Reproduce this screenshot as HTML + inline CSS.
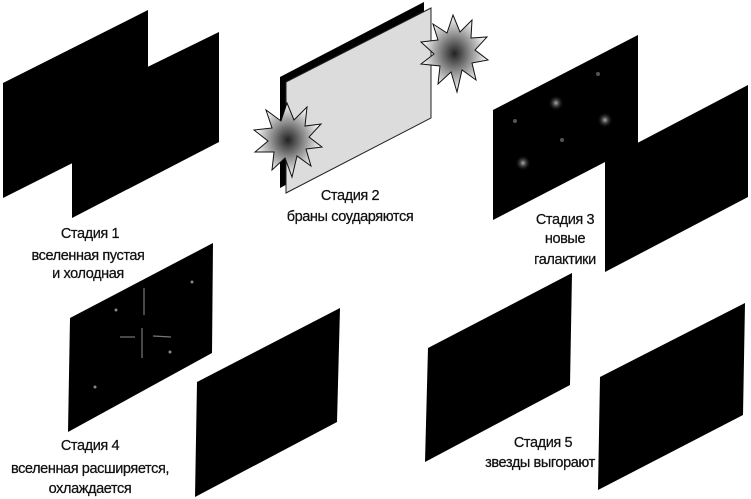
<!DOCTYPE html>
<html><head><meta charset="utf-8"><style>
html,body{margin:0;padding:0;background:#fff;}
svg{display:block;}
text{font-family:"Liberation Sans",sans-serif;font-size:14.5px;fill:#111;text-anchor:middle;letter-spacing:-0.4px;stroke:#111;stroke-width:0.25;}
</style></head><body>
<svg width="751" height="499" viewBox="0 0 751 499" xmlns="http://www.w3.org/2000/svg">
<defs>
<radialGradient id="g" cx="50%" cy="50%" r="50%">
<stop offset="0" stop-color="#222"/><stop offset="0.45" stop-color="#888"/><stop offset="1" stop-color="#fff"/>
</radialGradient>
<radialGradient id="gal" cx="50%" cy="50%" r="50%">
<stop offset="0" stop-color="#aaa"/><stop offset="0.3" stop-color="#555"/><stop offset="1" stop-color="#000" stop-opacity="0"/>
</radialGradient>
</defs>
<!-- Stage 1 -->
<polygon points="3,83 148,10 148,125 3,198" fill="#000"/>
<polygon points="72,104 219,32 219,142 72,218" fill="#000"/>
<text x="90" y="238">Стадия 1</text>
<text x="88" y="260">вселенная пустая</text>
<text x="88" y="278">и холодная</text>
<!-- Stage 2 -->
<polygon points="280,77 424,2 424,110 280,188" fill="#000"/>
<polygon points="286,82 431,8 431,118 286,193" fill="#dcdcdc" stroke="#222" stroke-width="1"/>
<polygon fill="url(#g)" stroke="#111" stroke-width="1" points="287,103 294,120 307,107 305,126 321,124 309,137 322,147 306,149 311,166 297,156 292,177 285,158 272,170 274,152 255,152 268,141 254,130 272,128 266,110 281,121"/>
<polygon fill="url(#g)" stroke="#111" stroke-width="1" points="453,15 460,32 472,20 471,38 487,37 475,50 488,60 472,63 476,80 462,70 457,92 451,72 438,84 440,66 421,64 434,54 421,42 438,40 433,24 447,33"/>
<text x="350" y="200">Стадия 2</text>
<text x="350" y="221">браны соударяются</text>
<!-- Stage 3 -->
<polygon points="493,110 638,35 638,145 493,220" fill="#000"/>
<polygon points="605,160 748,85 748,197 605,272" fill="#000"/>
<circle cx="556" cy="103" r="8" fill="url(#gal)"/>
<circle cx="605" cy="120" r="8" fill="url(#gal)"/>
<circle cx="523" cy="163" r="8" fill="url(#gal)"/>
<circle cx="598" cy="74" r="2" fill="#555"/>
<circle cx="515" cy="121" r="2" fill="#555"/>
<circle cx="562" cy="140" r="2" fill="#555"/>
<text x="565" y="224">Стадия 3</text>
<text x="565" y="243">новые</text>
<text x="565" y="264">галактики</text>
<!-- Stage 4 -->
<polygon points="70,318 213,243 212,353 68,432" fill="#000"/>
<polygon points="197,382 340,308 337,422 195,497" fill="#000"/>
<g stroke="#777" stroke-width="1.2" fill="none">
<line x1="144" y1="315" x2="144" y2="288"/><line x1="142" y1="328" x2="142" y2="358"/>
<line x1="135" y1="337" x2="120" y2="337"/><line x1="153" y1="336" x2="171" y2="337"/>
</g>
<circle cx="116" cy="310" r="1.5" fill="#888"/><circle cx="192" cy="282" r="1.5" fill="#888"/>
<circle cx="170" cy="352" r="1.5" fill="#888"/><circle cx="95" cy="387" r="1.5" fill="#888"/>
<text x="90" y="450">Стадия 4</text>
<text x="90" y="473">вселенная расширяется,</text>
<text x="90" y="493">охлаждается</text>
<!-- Stage 5 -->
<polygon points="428,348 572,273 570,385 425,462" fill="#000"/>
<polygon points="600,377 745,303 743,415 598,490" fill="#000"/>
<text x="543" y="447">Стадия 5</text>
<text x="540" y="467">звезды выгорают</text>
</svg>
</body></html>
